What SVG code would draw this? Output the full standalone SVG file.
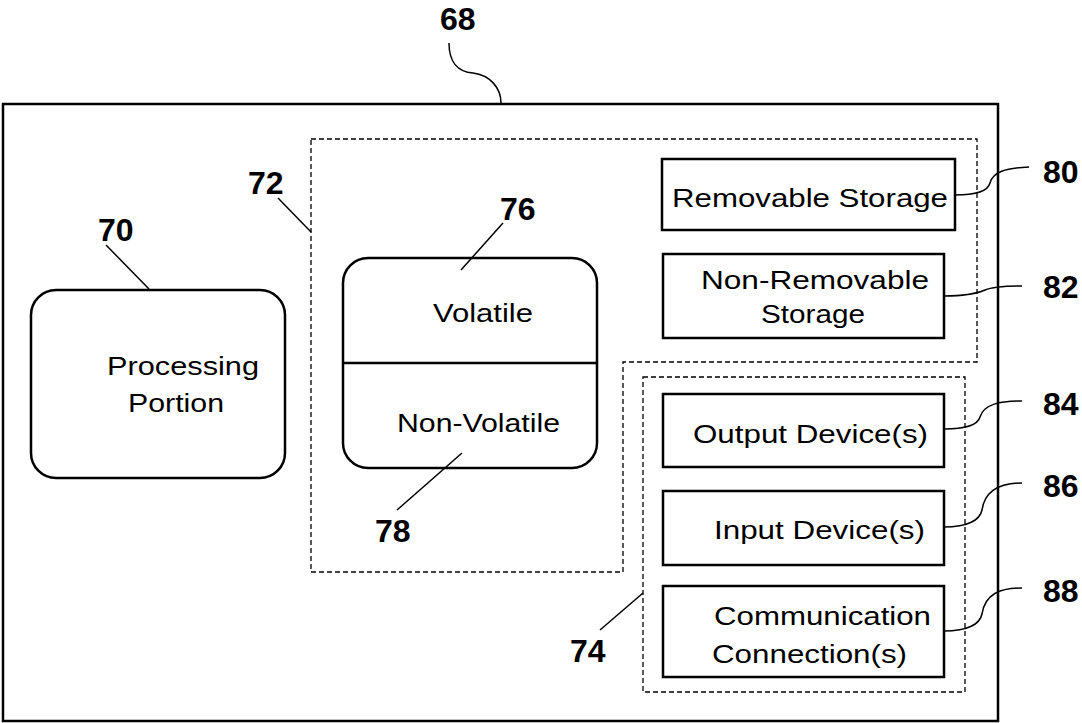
<svg xmlns="http://www.w3.org/2000/svg" width="1082" height="723" viewBox="0 0 1082 723">
<style>
.box{fill:#fff;stroke:#000;stroke-width:2.5}
.dash{fill:none;stroke:#000;stroke-width:1.3;stroke-dasharray:5,3}
.lead{fill:none;stroke:#000;stroke-width:1.5}
.t{font-family:"Liberation Sans",Arial,sans-serif;font-size:26px;fill:#000}
.n{font-family:"Liberation Sans",Arial,sans-serif;font-size:32px;font-weight:bold;fill:#000}
</style>
<rect width="1082" height="723" fill="#fff"/>
<g id="device">
<rect class="box" x="3" y="104" width="995" height="617"/>
<text class="n" x="440" y="30">68</text>
</g>
<g id="memory-region">
<path class="dash" d="M311,139 H977 V362 H623 V572 H311 Z"/>
<text class="n" x="248" y="194">72</text>
</g>
<g id="io-region">
<rect class="dash" x="643" y="377" width="322" height="315"/>
<text class="n" x="570" y="662">74</text>
</g>
<g id="processing">
<rect class="box" x="31" y="290" width="254" height="188" rx="25" ry="25"/>
<text class="t" x="107" y="375" textLength="152" lengthAdjust="spacingAndGlyphs">Processing</text>
<text class="t" x="128" y="412" textLength="96" lengthAdjust="spacingAndGlyphs">Portion</text>
<text class="n" x="98" y="241">70</text>
</g>
<g id="memory">
<rect class="box" x="343" y="258" width="254" height="210" rx="25" ry="25"/>
<line class="box" x1="343" y1="363" x2="597" y2="363"/>
<text class="t" x="433" y="322" textLength="100" lengthAdjust="spacingAndGlyphs">Volatile</text>
<text class="t" x="397" y="432" textLength="163" lengthAdjust="spacingAndGlyphs">Non-Volatile</text>
<text class="n" x="500" y="220">76</text>
<text class="n" x="375" y="542">78</text>
</g>
<g id="removable">
<rect class="box" x="662" y="159" width="293" height="71"/>
<text class="t" x="672" y="207" textLength="276" lengthAdjust="spacingAndGlyphs">Removable Storage</text>
<text class="n" x="1043" y="183">80</text>
</g>
<g id="nonremovable">
<rect class="box" x="663" y="254" width="281" height="84"/>
<text class="t" x="701" y="289" textLength="228" lengthAdjust="spacingAndGlyphs">Non-Removable</text>
<text class="t" x="761" y="323" textLength="104" lengthAdjust="spacingAndGlyphs">Storage</text>
<text class="n" x="1043" y="298">82</text>
</g>
<g id="output">
<rect class="box" x="663" y="394" width="281" height="73"/>
<text class="t" x="693" y="443" textLength="235" lengthAdjust="spacingAndGlyphs">Output Device(s)</text>
<text class="n" x="1043" y="415">84</text>
</g>
<g id="input">
<rect class="box" x="663" y="491" width="281" height="74"/>
<text class="t" x="714" y="539" textLength="211" lengthAdjust="spacingAndGlyphs">Input Device(s)</text>
<text class="n" x="1043" y="497">86</text>
</g>
<g id="communication">
<rect class="box" x="663" y="586" width="281" height="91"/>
<text class="t" x="714" y="625" textLength="217" lengthAdjust="spacingAndGlyphs">Communication</text>
<text class="t" x="712" y="663" textLength="195" lengthAdjust="spacingAndGlyphs">Connection(s)</text>
<text class="n" x="1043" y="602">88</text>
</g>
<g id="connectors">
<path class="lead" d="M449,43 C449,62 458,72 473,73 C490,75 501,88 501,103"/>
<path class="lead" d="M278,198 L311,232"/>
<path class="lead" d="M106,245 L149,289"/>
<path class="lead" d="M503,223 L461,270"/>
<path class="lead" d="M397,510 L462,453"/>
<path class="lead" d="M600,630 L643,593"/>
<path class="lead" d="M955,195 C975,195 988,191 990,183 C993,172 1005,168 1029,167"/>
<path class="lead" d="M944,296 C968,296 978,293 985,290 C992,287 1005,286 1022,286"/>
<path class="lead" d="M944,429 C968,429 978,424 980,417 C984,404 1000,401 1022,401"/>
<path class="lead" d="M944,527 C968,527 980,520 982,510 C985,490 1000,483 1022,483"/>
<path class="lead" d="M944,631 C968,631 980,624 982,614 C985,594 1000,588 1022,588"/>
</g>
</svg>
